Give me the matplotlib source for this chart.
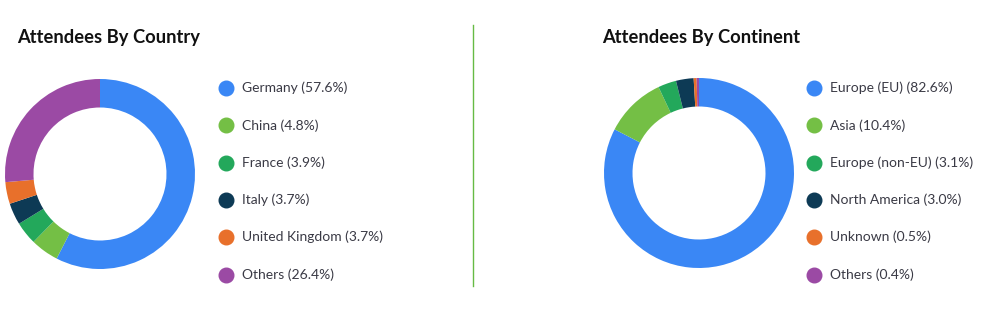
import matplotlib
matplotlib.use("Agg")
import matplotlib.pyplot as plt
from matplotlib.lines import Line2D

# data
country_labels = ["Germany", "China", "France", "Italy", "United Kingdom", "Others"]
country_values = [57.6, 4.8, 3.9, 3.7, 3.7, 26.4]

continent_labels = ["Europe (EU)", "Asia", "Europe (non-EU)", "North America", "Unknown", "Others"]
continent_values = [82.6, 10.4, 3.1, 3.0, 0.5, 0.4]

colors = ["#3a87f5", "#74bf45", "#23a85b", "#0d3a55", "#e8702b", "#9b4aa4"]

plt.rcParams['font.family'] = ['Lato', 'DejaVu Sans']

W, H = 992, 310
fig = plt.figure(figsize=(W / 100, H / 100), dpi=100)
fig.patch.set_facecolor("white")


def donut(cx, cy, r, values, labels, title, title_x, legend_x):
    ax = fig.add_axes([(cx - r) / W, (H - cy - r) / H, 2 * r / W, 2 * r / H])
    ax.pie(values, colors=colors, startangle=90, counterclock=False,
           radius=1, wedgeprops=dict(width=0.3, edgecolor="none"))
    ax.set_xlim(-1, 1)
    ax.set_ylim(-1, 1)
    ax.set_aspect("equal")
    ax.axis("off")

    fig.text(title_x / W, 1 - 37 / H, title, fontsize=13.2, fontweight="bold",
             color="#111111", va="center", ha="left")

    # legend rows
    y0 = 88
    for i, (lab, v) in enumerate(zip(labels, values)):
        y = y0 + i * 37.3
        fig.add_artist(Line2D([legend_x / W], [1 - y / H], marker="o", markersize=10.5,
                              color=colors[i], linestyle="none",
                              transform=fig.transFigure))
        fig.text((legend_x + 16) / W, 1 - y / H, f"{lab} ({v}%)", fontsize=10,
                 color="#3a3a45", va="center", ha="left")


donut(100, 174, 95, country_values, country_labels, "Attendees By Country", 17, 226)
donut(699, 173, 95, continent_values, continent_labels, "Attendees By Continent", 602, 814)

# divider
fig.add_artist(Line2D([473 / W, 473 / W], [1 - 25 / H, 1 - 286 / H], color="#66bb44",
                      linewidth=1, transform=fig.transFigure))

fig.savefig("out.png", dpi=100)
